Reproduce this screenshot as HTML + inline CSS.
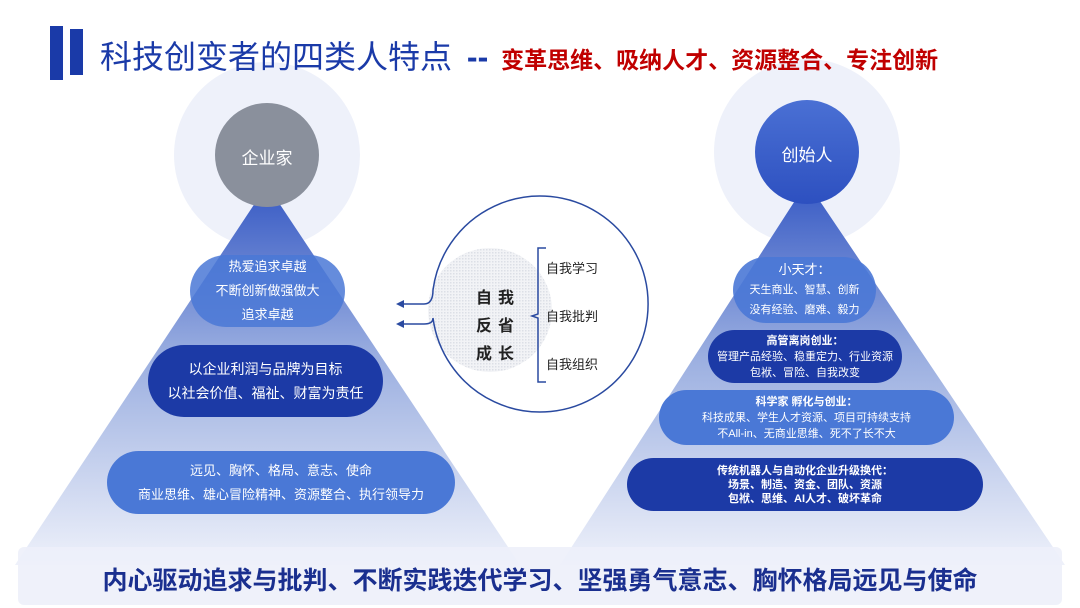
<!DOCTYPE html>
<html><head><meta charset="utf-8"><style>
body{margin:0;width:1080px;height:608px;overflow:hidden;background:#fff;font-family:"Liberation Sans","Noto Sans CJK SC",sans-serif;}
.a{position:absolute}
.pill{position:absolute;border-radius:36px;color:#fff;text-align:center;display:flex;flex-direction:column;justify-content:center;}
</style></head><body>
<svg class="a" style="left:0;top:0" width="1080" height="608">
<defs>
<linearGradient id="tri" x1="0" y1="0" x2="0" y2="1">
<stop offset="0" stop-color="#3659c4"/><stop offset="0.45" stop-color="#9aaee0"/><stop offset="1" stop-color="#eef1fa"/>
</linearGradient>
<linearGradient id="bc" x1="0" y1="0" x2="0" y2="1"><stop offset="0" stop-color="#4a70d4"/><stop offset="1" stop-color="#2d50c0"/></linearGradient>
<pattern id="dots" width="3" height="3" patternUnits="userSpaceOnUse"><rect width="3" height="3" fill="#f2f3f6"/><rect width="1.5" height="1.5" fill="#dcdfe6"/></pattern>
</defs>
<rect x="50" y="26" width="13" height="54" fill="#1a3aa8"/>
<rect x="70" y="29" width="13" height="46" fill="#1a3aa8"/>
<circle cx="267" cy="155" r="93" fill="#eef1fa"/>
<circle cx="807" cy="152" r="93" fill="#eef1fa"/>
<polygon points="267,185 15,565 520,565" fill="url(#tri)"/>
<polygon points="807,182 560,565 1065,565" fill="url(#tri)"/>
<circle cx="267" cy="155" r="52" fill="#8a909c"/>
<circle cx="807" cy="152" r="52" fill="url(#bc)"/>
<circle cx="490" cy="310" r="62" fill="url(#dots)"/>
<path d="M402 304 L424 304 Q433 304 433 290 A108 108 0 1 1 433 318 Q433 324 424 324 L402 324" fill="none" stroke="#2a4aa0" stroke-width="1.5"/>
<polygon points="396,304 404,300 404,308" fill="#2a4aa0"/>
<polygon points="396,324 404,320 404,328" fill="#2a4aa0"/>
<path d="M546 248 L538 248 L538 314 L532 316 L538 318 L538 382 L546 382" fill="none" stroke="#2a4aa0" stroke-width="1.5"/>
<rect x="18" y="547" width="1044" height="58" rx="6" fill="#edf0f9" opacity="0.9"/>
</svg>
<div class="a" style="left:100px;top:32px;font-size:32px;color:#1a3aa8;white-space:nowrap;">科技创变者的四类人特点 <span style="font-weight:bold;margin-left:6px">--</span> <span style="color:#c00000;font-size:23px;font-weight:bold;margin-left:4px">变革思维、吸纳人才、资源整合、专注创新</span></div>
<div class="a" style="left:215px;top:144px;width:104px;text-align:center;color:#fff;font-size:17px">企业家</div>
<div class="a" style="left:755px;top:141px;width:104px;text-align:center;color:#fff;font-size:17px">创始人</div>
<div class="pill" style="left:190px;top:255px;width:155px;height:72px;background:rgba(74,120,214,0.85);font-size:13px;line-height:24px">热爱追求卓越<br>不断创新做强做大<br>追求卓越</div>
<div class="pill" style="left:148px;top:345px;width:235px;height:72px;background:#1c3aa6;font-size:14px;line-height:24px">以企业利润与品牌为目标<br>以社会价值、福祉、财富为责任</div>
<div class="pill" style="left:107px;top:451px;width:348px;height:63px;background:#4a78d6;font-size:13px;line-height:24px">远见、胸怀、格局、意志、使命<br>商业思维、雄心冒险精神、资源整合、执行领导力</div>
<div class="a" style="left:476px;top:285px;font-size:16px;font-weight:bold;color:#222;line-height:28px;letter-spacing:6px">自我<br>反省<br>成长</div>
<div class="a" style="left:546px;top:258px;font-size:13px;color:#222">自我学习</div>
<div class="a" style="left:546px;top:306px;font-size:13px;color:#222">自我批判</div>
<div class="a" style="left:546px;top:354px;font-size:13px;color:#222">自我组织</div>
<div class="pill" style="left:733px;top:257px;width:143px;height:66px;background:rgba(74,120,214,0.9);font-size:11px;line-height:20px"><span style="font-size:13px">小天才：</span>天生商业、智慧、创新<br>没有经验、磨难、毅力</div>
<div class="pill" style="left:708px;top:330px;width:194px;height:53px;background:#1c3aa6;font-size:11px;line-height:16px"><b>高管离岗创业：</b>管理产品经验、稳重定力、行业资源<br>包袱、冒险、自我改变</div>
<div class="pill" style="left:659px;top:390px;width:295px;height:55px;background:#4a78d6;font-size:11px;line-height:16px"><b>科学家 孵化与创业：</b>科技成果、学生人才资源、项目可持续支持<br>不All-in、无商业思维、死不了长不大</div>
<div class="pill" style="left:627px;top:458px;width:356px;height:53px;background:#1c3aa6;font-size:11px;line-height:14px;font-weight:bold">传统机器人与自动化企业升级换代：<br>场景、制造、资金、团队、资源<br>包袱、思维、AI人才、破坏革命</div>
<div class="a" style="left:0;top:561px;width:1080px;text-align:center;font-size:25px;color:#1a2f8f;font-weight:bold">内心驱动追求与批判、不断实践迭代学习、坚强勇气意志、胸怀格局远见与使命</div>
</body></html>
